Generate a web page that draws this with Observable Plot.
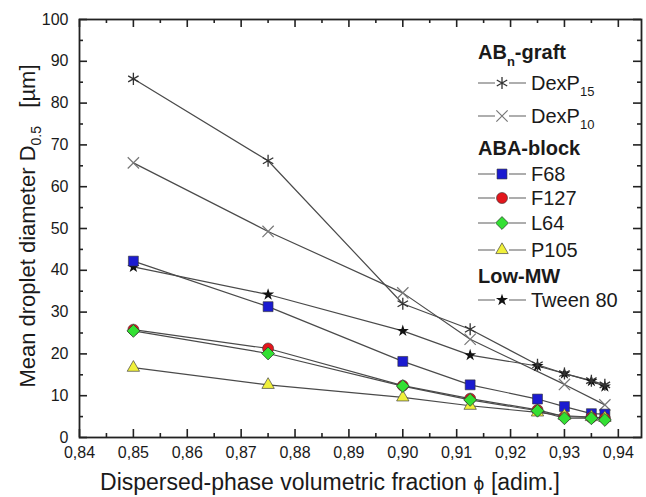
<!DOCTYPE html>
<html><head><meta charset="utf-8">
<script src="https://cdn.jsdelivr.net/npm/d3@7"></script>
<script src="https://cdn.jsdelivr.net/npm/@observablehq/plot@0.6"></script>
<style>
body{margin:0;background:#fff;}
#wrap{position:relative;width:646px;height:497px;font-family:"Liberation Sans",Arial,sans-serif;color:#1a1a1a;overflow:hidden;}
#wrap svg.chart{position:absolute;left:0;top:0;}
.row{position:absolute;left:478px;height:24px;line-height:24px;font-size:20px;white-space:nowrap;}
.row svg{position:absolute;left:0;top:2px;}
.row span.t{position:absolute;left:53px;top:0;}
.row.head span.t{left:0;font-weight:bold;}
.sb{font-size:13px;position:relative;top:6px;line-height:0;}
.title{position:absolute;line-height:24px;text-align:center;white-space:nowrap;}
</style></head><body><div id="wrap"></div>
<script>
// ---- data ----
const phi = [0.85, 0.875, 0.90, 0.9125, 0.925, 0.93, 0.935, 0.9375];
const dexP15 = [85.8, 66.2, 32.0, 25.9, 17.4, 15.3, 13.6, 12.6];
const phiDexP10 = [0.85, 0.875, 0.90, 0.9125, 0.93, 0.9375];
const dexP10 = [65.7, 49.3, 34.6, 23.5, 12.7, 7.8];
const f68 = [42.2, 31.3, 18.2, 12.6, 9.2, 7.4, 5.7, 5.6];
const f127 = [25.8, 21.3, 12.4, 9.3, 6.6, 5.0, 4.8, 4.6];
const l64 = [25.5, 20.1, 12.3, 9.0, 6.4, 4.6, 4.6, 4.2];
const p105 = [16.7, 12.6, 9.6, 7.6, 6.0, 5.2, 4.9, 4.7];
const tween80 = [40.8, 34.2, 25.5, 19.7, 17.1, 15.3, 13.5, 12.2];

const xMajor = [0.84, 0.85, 0.86, 0.87, 0.88, 0.89, 0.90, 0.91, 0.92, 0.93, 0.94];
const xMinor = [0.845, 0.855, 0.865, 0.875, 0.885, 0.895, 0.905, 0.915, 0.925, 0.935];
const yMajor = [0, 10, 20, 30, 40, 50, 60, 70, 80, 90, 100];
const yMinor = [5, 15, 25, 35, 45, 55, 65, 75, 85, 95];

const xLabel = "Dispersed-phase volumetric fraction";
const yLabel = "Mean droplet diameter D";

// ---- table ----
const rows = [];
function add(series, xs, ys) { xs.forEach((x, i) => rows.push({series, phi: x, d: ys[i]})); }
add("Tween 80", phi, tween80);
add("DexP15", phi, dexP15);
add("DexP10", phiDexP10, dexP10);
add("F68", phi, f68);
add("F127", phi, f127);
add("P105", phi, p105);
add("L64", phi, l64);

const styles = {
  "DexP15": {symbol: "asterisk", r: 5.7, fill: "none", stroke: "#333", strokeWidth: 1.3},
  "DexP10": {symbol: "times", r: 5.2, fill: "none", stroke: "#777", strokeWidth: 1.2},
  "F68": {symbol: "square", r: 5.6, fill: "#1b1bd0", stroke: "#333", strokeWidth: 0.6},
  "F127": {symbol: "circle", r: 5.5, fill: "#e3161c", stroke: "#333", strokeWidth: 0.6},
  "L64": {symbol: d3.symbolDiamond2, r: 5.8, fill: "#33e033", stroke: "#2a2a2a", strokeWidth: 0.7},
  "P105": {symbol: "triangle", r: 4.6, fill: "#f0f03a", stroke: "#444", strokeWidth: 0.7},
  "Tween 80": {symbol: "star", r: 3.8, fill: "#111", stroke: "none", strokeWidth: 0}
};
const order = ["Tween 80", "DexP15", "DexP10", "F68", "F127", "P105", "L64"];

const W = 646, H = 497, mL = 79, mR = 5, mT = 19, mB = 60;
const iW = W - mL - mR, iH = H - mT - mB;
const majorLen = 8, minorLen = 4;

const marks = [];
for (const s of order) {
  marks.push(Plot.line(rows.filter(r => r.series === s), {x: "phi", y: "d", stroke: "#4a4a4a", strokeWidth: 1.2}));
}
for (const s of order) {
  const st = styles[s];
  marks.push(Plot.dot(rows.filter(r => r.series === s), {x: "phi", y: "d", ...st}));
}
const tk = {stroke: "#222", strokeWidth: 1.6};
marks.push(
  Plot.tickX(xMajor, {x: d => d, insetTop: iH - majorLen, ...tk}),
  Plot.tickX(xMinor, {x: d => d, insetTop: iH - minorLen, ...tk}),
  Plot.tickX(xMajor, {x: d => d, insetBottom: iH - majorLen, ...tk}),
  Plot.tickX(xMinor, {x: d => d, insetBottom: iH - minorLen, ...tk}),
  Plot.tickY(yMajor, {y: d => d, insetRight: iW - majorLen, ...tk}),
  Plot.tickY(yMinor, {y: d => d, insetRight: iW - minorLen, ...tk}),
  Plot.tickY(yMajor, {y: d => d, insetLeft: iW - majorLen, ...tk}),
  Plot.tickY(yMinor, {y: d => d, insetLeft: iW - minorLen, ...tk}),
  Plot.axisX({ticks: xMajor, tickSize: 0, tickPadding: 9, tickFormat: d => d.toFixed(2).replace(".", ","), label: null, fontSize: 16}),
  Plot.axisY({ticks: yMajor, tickSize: 0, tickPadding: 11, tickFormat: d => String(d), label: null, fontSize: 16}),
  Plot.frame({stroke: "#222", strokeWidth: 1.8})
);

const chart = Plot.plot({
  width: W, height: H,
  marginLeft: mL, marginRight: mR, marginTop: mT, marginBottom: mB,
  x: {domain: [0.84, 0.9443]},
  y: {domain: [0, 100]},
  style: {fontFamily: '"Liberation Sans", Arial, sans-serif', fontSize: "16px", color: "#1a1a1a", background: "white", overflow: "visible"},
  marks
});
chart.classList.add("chart");
const wrap = document.getElementById("wrap");
wrap.appendChild(chart);

// axis titles
const xt = document.createElement("div");
xt.className = "title";
xt.style.fontSize = "23px";
xt.style.left = "30px"; xt.style.width = "600px"; xt.style.top = "470px";
xt.innerHTML = xLabel + ' <span style="font-family:\'DejaVu Sans\';font-size:17px">\u03D5</span> [adim.]';
wrap.appendChild(xt);

const yt = document.createElement("div");
yt.className = "title";
yt.style.fontSize = "22px";
yt.style.width = "400px"; yt.style.left = (28 - 200) + "px"; yt.style.top = (226 - 12) + "px";
yt.style.transform = "rotate(-90deg)";
yt.innerHTML = yLabel + '<span class="sb" style="font-size:14px">0.5</span>&nbsp;&nbsp;&nbsp;[\u00B5m]';
wrap.appendChild(yt);

// legend
const legendRows = [
  {head: true, html: 'AB<span class="sb" style="top:7px">n</span>-graft', cy: 52},
  {key: "DexP15", html: 'DexP<span class="sb">15</span>', cy: 83},
  {key: "DexP10", html: 'DexP<span class="sb">10</span>', cy: 116},
  {head: true, html: 'ABA-block', cy: 148},
  {key: "F68", html: 'F68', cy: 174},
  {key: "F127", html: 'F127', cy: 198},
  {key: "L64", html: 'L64', cy: 223},
  {key: "P105", html: 'P105', cy: 250},
  {head: true, html: 'Low-MW', cy: 276},
  {key: "Tween 80", html: 'Tween 80', cy: 300}
];
const symMap = {asterisk: d3.symbolAsterisk, times: d3.symbolTimes, square: d3.symbolSquare, circle: d3.symbolCircle, triangle: d3.symbolTriangle, star: d3.symbolStar};
for (const lr of legendRows) {
  const div = document.createElement("div");
  div.className = "row" + (lr.head ? " head" : "");
  div.style.top = (lr.cy - 12) + "px";
  let inner = "";
  if (!lr.head) {
    const st = styles[lr.key];
    const type = typeof st.symbol === "string" ? symMap[st.symbol] : st.symbol;
    const path = d3.symbol(type, Math.PI * st.r * st.r)();
    inner += `<svg width="50" height="20"><line x1="0" x2="17" y1="10" y2="10" stroke="#777" stroke-width="1.2"/><line x1="31" x2="48" y1="10" y2="10" stroke="#777" stroke-width="1.2"/><path transform="translate(24,10)" d="${path}" fill="${st.fill}" stroke="${st.stroke}" stroke-width="${st.strokeWidth}"/></svg>`;
  }
  inner += `<span class="t">${lr.html}</span>`;
  div.innerHTML = inner;
  wrap.appendChild(div);
}
</script></body></html>
